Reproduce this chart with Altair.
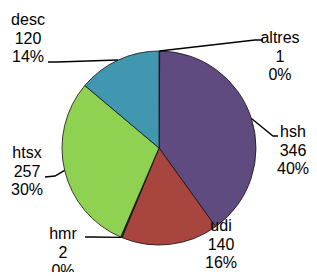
import math
import altair as alt
import pandas as pd

# ---- data ----
labels = ["altres", "hsh", "udi", "hmr", "htsx", "desc"]
values = [1, 346, 140, 2, 257, 120]
colors = ["#E46C0A", "#5F4B7F", "#A8453F", "#2A2A2A", "#8FD150", "#4196B0"]

# ---- layout (view coordinates, px) ----
CX, CY, R = 151, 140, 97
label_xy = {            # centre of the first text line
    "altres": (272, 30),
    "hsh": (285, 124),
    "udi": (213, 218),
    "hmr": (55, 226),
    "htsx": (19, 145),
    "desc": (20, 12),
}
leader_pts = {          # elbow, end (start point is computed on the pie edge)
    "altres": [(247, 32), (255, 32)],
    "hsh": [(265, 128), (270, 128)],
    "desc": [(49, 54), (40, 54)],
    "htsx": [(47, 168), (37, 169)],
    "hmr": [(84, 229), (77, 229)],
}

total = sum(values)
df = pd.DataFrame({"label": labels, "value": values, "idx": range(len(labels))})
df["text"] = [f"{l}\n{v}\n{round(100 * v / total)}%" for l, v in zip(labels, values)]
df["tx"] = [label_xy[l][0] for l in labels]
df["ty"] = [label_xy[l][1] for l in labels]

# leader lines: start at slice mid-angle on the rim
rows = []
cum = 0
for l, v in zip(labels, values):
    mid = (cum + v / 2) / total * 2 * math.pi
    cum += v
    if l not in leader_pts:
        continue
    sx = CX + R * math.sin(mid)
    sy = CY - R * math.cos(mid)
    pts = [(sx, sy)] + leader_pts[l]
    for k, (x, y) in enumerate(pts):
        rows.append({"label": l, "k": k, "x": x, "y": y})
lines_df = pd.DataFrame(rows)

pie = alt.Chart(df).mark_arc(
    outerRadius=R, stroke="#111111", strokeWidth=0.8
).encode(
    theta=alt.Theta("value:Q", stack=True),
    order=alt.Order("idx:Q"),
    color=alt.Color("label:N", scale=alt.Scale(domain=labels, range=colors), legend=None),
    x=alt.value(CX),
    y=alt.value(CY),
)

leaders = alt.Chart(lines_df).mark_line(color="black", strokeWidth=1.4).encode(
    x=alt.X("x:Q", scale=None),
    y=alt.Y("y:Q", scale=None),
    detail="label:N",
    order="k:Q",
)

texts = alt.Chart(df).mark_text(
    font="Liberation Sans", fontSize=16, lineBreak="\n", lineHeight=18.5,
    align="center", baseline="middle", color="black",
).encode(
    x=alt.X("tx:Q", scale=None),
    y=alt.Y("ty:Q", scale=None),
    text="text:N",
)

chart = alt.layer(pie, leaders, texts).properties(
    width=301, height=264, padding=0, autosize="none", background="white"
).configure_view(stroke=None)

chart.save("out.html", embed_options={"renderer": "svg", "actions": False})
